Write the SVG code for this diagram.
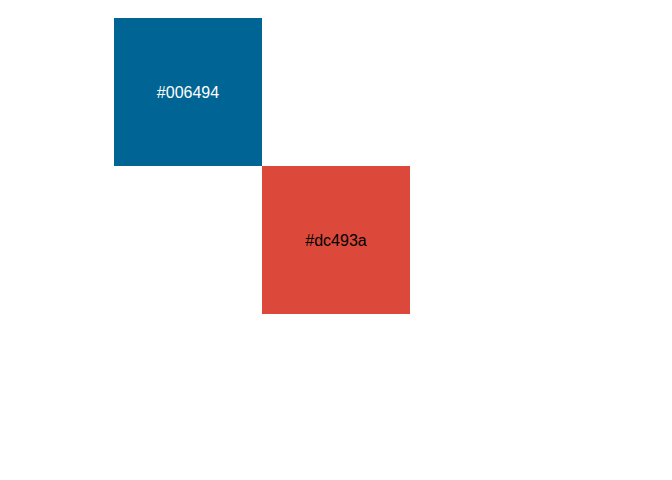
<svg xmlns="http://www.w3.org/2000/svg" width="672" height="480" viewBox="0 0 672 480">
<style>
text{font-family:"Liberation Sans",Arial,sans-serif;font-size:16px;text-anchor:middle}
</style>
<rect width="672" height="480" fill="#ffffff"/>
<g id="node-006494">
<rect x="114" y="18" width="148" height="148" fill="#006494"/>
<text x="188" y="98" fill="#ffffff">#006494</text>
</g>
<g id="node-dc493a">
<rect x="262" y="166" width="148" height="148" fill="#dc493a"/>
<text x="336" y="246" fill="#000000">#dc493a</text>
</g>
<g id="connectors"></g>
</svg>
